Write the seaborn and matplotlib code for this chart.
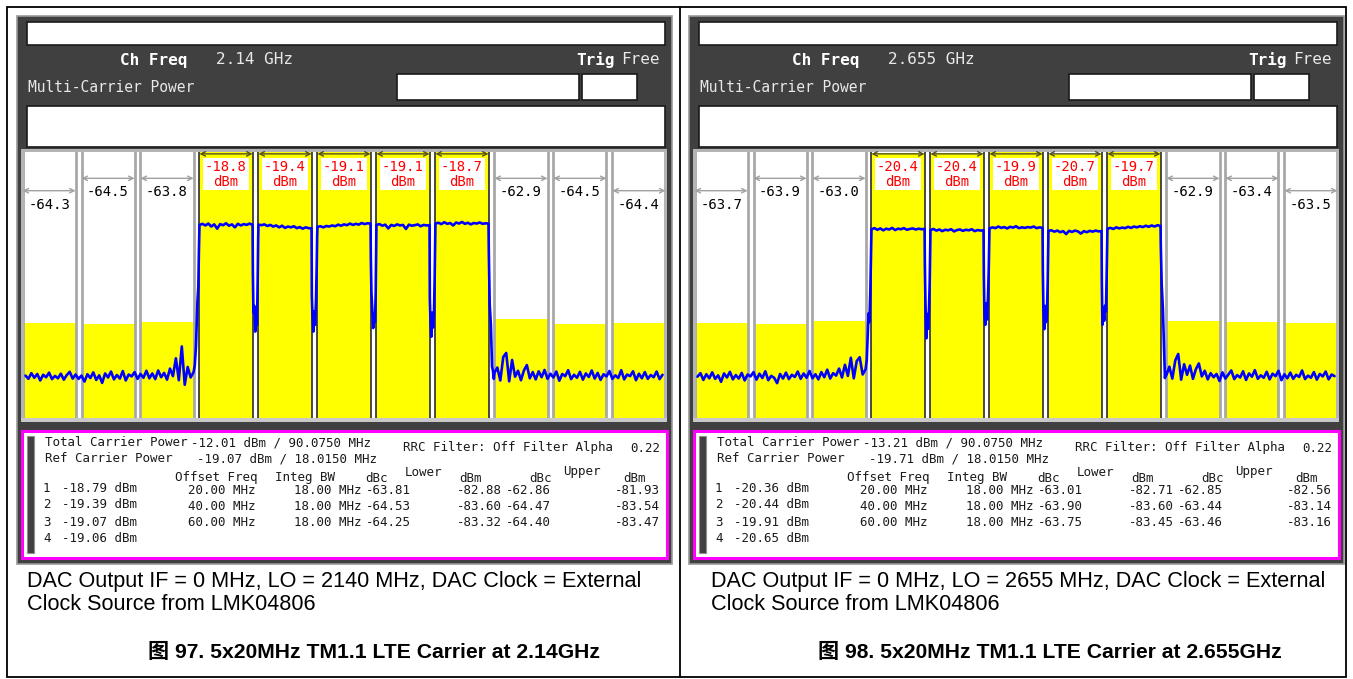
import numpy as np
import pandas as pd
import matplotlib
matplotlib.use("Agg")
import matplotlib.pyplot as plt
from matplotlib.patches import Rectangle
import seaborn as sns

# ---------------------------------------------------------------- channel plan
CH_OFFSETS = [-100, -80, -60, -40, -20, 0, 20, 40, 60, 80, 100]   # MHz, column centres
CARRIER_COLS = [3, 4, 5, 6, 7]
HALF_BW = 9.0                                                      # 18 MHz integration BW
offset_freq = [20.00, 40.00, 60.00]

# sample offsets (MHz) used inside the 2 MHz guard gaps
EDGE_IN_OFS = [0.0, 0.4, 0.8, 1.0, 1.3, 1.6, 1.8]
GAP_OFS = [0.1, 0.3, 0.6, 0.9, 1.2, 1.5, 1.75, 1.9]
EDGE_OUT_OFS = [0.1, 0.4, 0.8, 1.2, 1.5, 1.8]

# ---------------------------------------------------------------- 2.14 GHz run
a_freq_text = "2.14 GHz"
a_lo = 2140
a_fig_no = 97
a_fig_freq = "2.14GHz"
a_carrier_labels = [-18.8, -19.4, -19.1, -19.1, -18.7]
a_lower_labels = [-64.3, -64.5, -63.8]          # 60, 40, 20 MHz below
a_upper_labels = [-62.9, -64.5, -64.4]          # 20, 40, 60 MHz above
a_total = -12.01
a_ref = -19.07
a_carrier_power = [-18.79, -19.39, -19.07, -19.06]
a_lower_dbc = [-63.81, -64.53, -64.25]
a_lower_dbm = [-82.88, -83.60, -83.32]
a_upper_dbc = [-62.86, -64.47, -64.40]
a_upper_dbm = [-81.93, -83.54, -83.47]

a_floor_low = [-102.8, -104.0, -101.9, -103.6, -102.2, -104.6, -102.5, -103.4, -101.7, -104.1,
               -102.9, -103.8, -102.1, -104.3, -102.6, -101.4, -103.9, -102.4, -104.0, -102.8,
               -105.0, -102.3, -103.7, -101.6, -104.4, -102.7, -105.5, -102.0, -103.5, -101.3,
               -104.2, -102.6, -103.9, -101.1, -104.6, -102.4, -103.1, -101.5, -104.0, -102.2,
               -103.6, -101.0, -103.8, -102.0, -104.1, -100.9, -103.4, -101.8, -104.3, -100.2,
               -103.0, -96.4, -104.5, -92.0, -106.2, -99.6, -103.5]
a_edge_in = [-101.5, -99.0, -92.0, -85.0, -75.5, -70.0, -57.0]
a_carriers = [
    [-47.0, -46.6, -47.2, -46.5, -47.6, -46.8, -48.4, -46.7, -47.1, -46.4,
     -47.3, -46.8, -47.9, -46.6, -47.2, -46.7, -47.0, -46.5, -47.0],
    [-46.9, -47.1, -46.8, -47.4, -47.0, -47.6, -47.2, -47.9, -47.3, -48.1,
     -47.6, -47.9, -47.5, -48.2, -47.8, -48.4, -47.9, -48.2, -48.3],
    [-47.7, -47.5, -47.9, -47.4, -47.6, -47.2, -47.5, -46.9, -47.3, -46.8,
     -47.1, -46.5, -47.0, -46.6, -46.9, -46.3, -46.7, -46.4, -46.5],
    [-47.0, -46.7, -47.3, -46.9, -48.3, -47.0, -47.4, -46.8, -47.2, -47.0,
     -48.5, -46.9, -47.3, -47.1, -46.8, -47.5, -47.0, -47.2, -47.1],
    [-46.5, -46.2, -46.7, -46.0, -46.6, -46.3, -47.2, -46.1, -46.5, -45.9,
     -46.6, -46.2, -46.8, -46.3, -46.5, -46.1, -46.6, -46.4, -46.5],
]
a_gaps = [
    [-64.8, -79.5, -77.0, -86.5, -80.0, -84.0, -66.0, -52.0],
    [-73.5, -80.0, -86.5, -79.0, -84.0, -75.0, -62.0, -51.0],
    [-59.5, -72.0, -78.5, -85.2, -80.0, -83.0, -72.0, -58.0],
    [-74.0, -82.0, -88.4, -79.5, -85.0, -80.0, -66.0, -53.8],
]
a_edge_out = [-56.9, -76.5, -84.0, -99.5, -101.0, -104.0]
a_floor_high = [-101.8, -99.8, -104.6, -95.9, -94.4, -104.9, -97.0, -103.2, -101.0, -104.5,
                -100.9, -98.9, -103.8, -101.5, -104.2, -101.2, -103.4, -100.7, -104.0, -102.1,
                -103.5, -101.3, -104.7, -102.2, -103.0, -100.8, -104.1, -102.5, -103.6, -101.4,
                -104.3, -102.0, -103.3, -100.9, -103.9, -101.8, -104.4, -102.3, -103.1, -101.1,
                -104.0, -102.7, -103.7, -100.8, -104.2, -102.4, -103.0, -101.2, -104.5, -102.1,
                -103.8, -101.5, -104.0, -102.6, -103.4, -101.3, -104.1, -102.5]

# ---------------------------------------------------------------- 2.655 GHz run
b_freq_text = "2.655 GHz"
b_lo = 2655
b_fig_no = 98
b_fig_freq = "2.655GHz"
b_carrier_labels = [-20.4, -20.4, -19.9, -20.7, -19.7]
b_lower_labels = [-63.7, -63.9, -63.0]
b_upper_labels = [-62.9, -63.4, -63.5]
b_total = -13.21
b_ref = -19.71
b_carrier_power = [-20.36, -20.44, -19.91, -20.65]
b_lower_dbc = [-63.01, -63.90, -63.75]
b_lower_dbm = [-82.71, -83.60, -83.45]
b_upper_dbc = [-62.85, -63.44, -63.46]
b_upper_dbm = [-82.56, -83.14, -83.16]

b_floor_low = [-103.2, -101.9, -104.4, -102.3, -103.8, -101.6, -104.0, -102.7, -105.1, -102.0,
               -103.5, -101.4, -104.2, -102.6, -103.9, -101.8, -104.6, -102.4, -103.1, -101.5,
               -104.3, -102.1, -103.7, -101.2, -104.5, -102.9, -103.6, -105.6, -102.2, -103.9,
               -101.7, -104.1, -102.5, -103.3, -101.3, -104.0, -102.0, -103.6, -101.1, -103.8,
               -102.3, -104.2, -101.5, -103.4, -100.6, -103.9, -101.9, -102.8, -100.2, -103.5,
               -98.8, -102.9, -96.2, -103.8, -97.4, -96.0, -102.4]
b_edge_in = [-100.5, -97.0, -86.0, -79.8, -83.0, -72.0, -60.0]
b_carriers = [
    [-48.6, -48.2, -48.8, -48.3, -49.0, -48.4, -48.7, -48.1, -48.9, -48.4,
     -48.6, -48.2, -48.8, -48.5, -48.3, -48.7, -48.4, -48.6, -48.5],
    [-48.9, -48.5, -49.1, -48.7, -49.3, -48.8, -49.0, -48.6, -49.4, -48.9,
     -48.7, -49.2, -48.8, -49.0, -48.6, -49.3, -48.9, -49.1, -49.0],
    [-48.3, -47.9, -48.2, -47.6, -48.1, -47.8, -48.3, -47.7, -48.0, -47.5,
     -48.2, -47.9, -48.1, -47.8, -48.0, -47.6, -48.2, -47.9, -48.1],
    [-49.2, -49.0, -49.5, -49.1, -49.7, -49.3, -50.4, -49.2, -49.6, -49.1,
     -49.4, -50.2, -49.3, -49.7, -49.2, -49.5, -49.1, -49.4, -49.3],
    [-48.4, -48.1, -48.5, -47.9, -48.3, -48.0, -48.2, -47.7, -48.1, -47.6,
     -47.9, -47.5, -47.8, -47.3, -47.7, -47.2, -47.6, -47.1, -47.4],
]
b_gaps = [
    [-62.0, -76.0, -89.0, -80.0, -85.5, -78.0, -68.0, -55.0],
    [-66.0, -80.5, -84.0, -76.0, -82.0, -73.6, -64.0, -53.0],
    [-64.0, -78.0, -85.6, -77.0, -83.0, -80.0, -68.0, -55.0],
    [-68.0, -84.0, -78.0, -82.5, -76.9, -79.0, -65.0, -54.0],
]
b_edge_out = [-55.0, -69.0, -77.8, -92.0, -103.7, -101.5]
b_floor_high = [-102.6, -99.5, -103.9, -97.2, -94.8, -104.3, -98.6, -102.5, -99.1, -104.0,
                -100.4, -98.3, -103.1, -101.0, -104.2, -101.9, -103.4, -102.2, -104.8, -101.6,
                -103.9, -102.4, -100.9, -104.1, -102.6, -103.5, -101.2, -104.4, -102.0, -103.2,
                -100.8, -104.0, -102.7, -103.6, -101.4, -104.2, -102.1, -103.0, -101.0, -104.5,
                -102.3, -103.8, -101.7, -104.0, -102.5, -103.3, -100.9, -104.1, -102.8, -103.6,
                -101.5, -104.3, -102.2, -103.1, -101.3, -104.2, -102.4, -103.0]

# ---------------------------------------------------------------- styling
W, H = 1353, 679
REF_LEVEL, BOTTOM_LEVEL = -20.0, -118.5
SCREEN = "#404040"
YELLOW = "#ffff00"
MONO = ["DejaVu Sans Mono"]
CAPTION = ["Liberation Sans", "Noto Sans CJK SC"]

sns.set_theme(style="white")
plt.rcParams["font.family"] = MONO

fig = plt.figure(figsize=(W / 100, H / 100), dpi=100)
bg = fig.add_axes([0, 0, 1, 1], zorder=0)
bg.set_xlim(0, W)
bg.set_ylim(H, 0)
bg.axis("off")


def box(x0, y0, x1, y1, fc, ec="none", lw=0.0, z=1):
    bg.add_patch(Rectangle((x0, y0), x1 - x0, y1 - y0, facecolor=fc,
                           edgecolor=ec, linewidth=lw, zorder=z))


def build_trace(floor_low, edge_in, carriers, gaps, edge_out, floor_high):
    f = list(np.arange(-108, -51, 1.0))
    v = list(floor_low)
    f += [-51 + o for o in EDGE_IN_OFS]
    v += edge_in
    for k, vals in enumerate(carriers):
        c = CH_OFFSETS[CARRIER_COLS[k]]
        f += list(np.arange(c - HALF_BW, c + HALF_BW + 1, 1.0))
        v += vals
        if k < len(gaps):
            f += [c + HALF_BW + o for o in GAP_OFS]
            v += gaps[k]
    f += [49 + o for o in EDGE_OUT_OFS]
    v += edge_out
    f += list(np.arange(51, 109, 1.0))
    v += floor_high
    return pd.DataFrame({"freq": f, "level": v})


def draw_panel(dx, freq_text, carrier_labels, lower_labels, upper_labels, ref,
               total, carrier_power, lower_dbc, lower_dbm, upper_dbc, upper_dbm,
               trace, lo, fig_no, fig_freq, cap_x, fig_x):
    # instrument screen
    box(17 + dx, 16, 672 + dx, 564, SCREEN, "#9a9a9a", 1.2)
    box(27 + dx, 22, 665 + dx, 45, "white", "#1a1a1a", 1.2, 2)
    bg.text(187 + dx, 60, "Ch Freq", color="white", fontsize=11.5, weight="bold",
            ha="right", va="center", zorder=3)
    bg.text(216 + dx, 60, freq_text, color="#e8e8e8", fontsize=11.5,
            ha="left", va="center", zorder=3)
    bg.text(615 + dx, 60, "Trig", color="white", fontsize=11.5, weight="bold",
            ha="right", va="center", zorder=3)
    bg.text(621 + dx, 60, "Free", color="#e8e8e8", fontsize=11.5,
            ha="left", va="center", zorder=3)
    bg.text(28 + dx, 88, "Multi-Carrier Power", color="#e8e8e8", fontsize=10.5,
            ha="left", va="center", zorder=3)
    box(397 + dx, 74, 579 + dx, 100, "white", "#1a1a1a", 1.2, 2)
    box(582 + dx, 74, 637 + dx, 100, "white", "#1a1a1a", 1.2, 2)
    box(27 + dx, 106, 665 + dx, 147, "white", "#1a1a1a", 1.2, 2)
    # graph bezel
    box(21 + dx, 149, 667 + dx, 422, "#b4b4b4", z=2)

    # spectrum axes
    ax = fig.add_axes([(24 + dx) / W, 1 - 418 / H, 640 / W, (418 - 152) / H], zorder=2)
    ax.set_facecolor("white")
    ax.set_xlim(-108.5, 108.5)
    ax.set_ylim(BOTTOM_LEVEL, REF_LEVEL)
    ax.set_xticks([])
    ax.set_yticks([])
    for s in ax.spines.values():
        s.set_visible(False)

    adj_labels = list(lower_labels) + list(upper_labels)
    adj_cols = [0, 1, 2, 8, 9, 10]
    adj_centres = [CH_OFFSETS[i] for i in adj_cols]
    adj_levels = [ref + v for v in adj_labels]
    car_centres = [CH_OFFSETS[i] for i in CARRIER_COLS]
    ax.bar(adj_centres, [lv - BOTTOM_LEVEL for lv in adj_levels], width=2 * HALF_BW,
           bottom=BOTTOM_LEVEL, color=YELLOW, linewidth=0, zorder=1)
    ax.bar(car_centres, [lv - BOTTOM_LEVEL for lv in carrier_labels], width=2 * HALF_BW,
           bottom=BOTTOM_LEVEL, color=YELLOW, linewidth=0, zorder=1)

    xt = ax.get_xaxis_transform()
    for i, c in enumerate(CH_OFFSETS):
        is_car = i in CARRIER_COLS
        for edge in (c - HALF_BW, c + HALF_BW):
            ax.axvline(edge, color="#3a3a3a" if is_car else "#a8a8a8",
                       lw=1.3 if is_car else 2.0, zorder=2)

    sns.lineplot(data=trace, x="freq", y="level", ax=ax, color="#0000ff",
                 linewidth=1.9, sort=False, estimator=None, legend=False, zorder=4)
    ax.set_xlabel("")
    ax.set_ylabel("")

    for c, v, i in zip(adj_centres, adj_labels, adj_cols):
        outer = i in (0, 10)
        ya = 0.8545 if outer else 0.901
        yl = 0.801 if outer else 0.851
        ax.annotate("", xy=(c + HALF_BW, ya), xytext=(c - HALF_BW, ya), xycoords=xt,
                    arrowprops=dict(arrowstyle="<->", color="#a0a0a0", lw=1.0,
                                    shrinkA=0, shrinkB=0, mutation_scale=8), zorder=5)
        ax.text(c, yl, f"{v:.1f}", transform=xt, ha="center", va="center",
                fontsize=10, color="black", zorder=6)
    for c, v in zip(car_centres, carrier_labels):
        ax.annotate("", xy=(c + HALF_BW, 0.993), xytext=(c - HALF_BW, 0.993), xycoords=xt,
                    arrowprops=dict(arrowstyle="<->", color="#505020", lw=1.0,
                                    shrinkA=0, shrinkB=0, mutation_scale=8), zorder=5)
        ax.text(c, 0.917, f"{v:.1f}\ndBm", transform=xt, ha="center", va="center",
                fontsize=10, color="#ff0000", linespacing=1.1, zorder=6,
                bbox=dict(boxstyle="square,pad=0.12", fc="white", ec="none"))

    # measurement summary
    box(21 + dx, 418, 667 + dx, 422, "#c8c8c8", z=2)
    box(22 + dx, 431, 667 + dx, 558, "white", "#ff00ff", 2.2, 2)
    box(27 + dx, 436, 34 + dx, 553, SCREEN, "#909090", 0.8, 3)
    fs = 9.0
    kw = dict(fontsize=fs, color="#1a1a1a", va="center", zorder=4)
    bg.text(45 + dx, 443, "Total Carrier Power", ha="left", **kw)
    bg.text(191 + dx, 443, f"{total:.2f} dBm / 90.0750 MHz", ha="left", **kw)
    bg.text(45 + dx, 459, "Ref Carrier Power", ha="left", **kw)
    bg.text(197 + dx, 459, f"{ref:.2f} dBm / 18.0150 MHz", ha="left", **kw)
    bg.text(403 + dx, 448, "RRC Filter: Off Filter Alpha", ha="left", **kw)
    bg.text(660 + dx, 448, "0.22", ha="right", **kw)
    bg.text(175 + dx, 478, "Offset Freq", ha="left", **kw)
    bg.text(275 + dx, 478, "Integ BW", ha="left", **kw)
    bg.text(377 + dx, 478, "dBc", ha="center", **kw)
    bg.text(424 + dx, 472, "Lower", ha="center", **kw)
    bg.text(471 + dx, 479, "dBm", ha="center", **kw)
    bg.text(541 + dx, 479, "dBc", ha="center", **kw)
    bg.text(582 + dx, 472, "Upper", ha="center", **kw)
    bg.text(635 + dx, 479, "dBm", ha="center", **kw)
    for n, (p, yy) in enumerate(zip(carrier_power, [489, 505, 522, 538]), start=1):
        bg.text(43 + dx, yy, f"{n}", ha="left", **kw)
        bg.text(62 + dx, yy, f"{p:.2f} dBm", ha="left", **kw)
    for k, yy in enumerate([490, 506, 522]):
        bg.text(255 + dx, yy, f"{offset_freq[k]:.2f} MHz", ha="right", **kw)
        bg.text(361 + dx, yy, "18.00 MHz", ha="right", **kw)
        bg.text(366 + dx, yy, f"{lower_dbc[k]:.2f}", ha="left", **kw)
        bg.text(502 + dx, yy, f"{lower_dbm[k]:.2f}", ha="right", **kw)
        bg.text(551 + dx, yy, f"{upper_dbc[k]:.2f}", ha="right", **kw)
        bg.text(660 + dx, yy, f"{upper_dbm[k]:.2f}", ha="right", **kw)

    # caption
    ckw = dict(fontsize=15.6, family=CAPTION, color="black", ha="left", va="center", zorder=4)
    bg.text(cap_x, 581,
            f"DAC Output IF = 0 MHz, LO = {lo} MHz, DAC Clock = External", **ckw)
    bg.text(cap_x, 604, "Clock Source from LMK04806", **ckw)
    bg.text(fig_x, 652, f"图 {fig_no}. 5x20MHz TM1.1 LTE Carrier at {fig_freq}",
            fontsize=15.2, family=CAPTION, weight="bold", color="black",
            ha="left", va="center", zorder=4)


# page frame
box(7, 7, 1346, 677, "white", "black", 1.3, 0)
bg.plot([680, 680], [7, 677], color="black", lw=1.3, zorder=1)

draw_panel(0, a_freq_text, a_carrier_labels, a_lower_labels, a_upper_labels, a_ref,
           a_total, a_carrier_power, a_lower_dbc, a_lower_dbm, a_upper_dbc, a_upper_dbm,
           build_trace(a_floor_low, a_edge_in, a_carriers, a_gaps, a_edge_out, a_floor_high),
           a_lo, a_fig_no, a_fig_freq, 27, 148)
draw_panel(672, b_freq_text, b_carrier_labels, b_lower_labels, b_upper_labels, b_ref,
           b_total, b_carrier_power, b_lower_dbc, b_lower_dbm, b_upper_dbc, b_upper_dbm,
           build_trace(b_floor_low, b_edge_in, b_carriers, b_gaps, b_edge_out, b_floor_high),
           b_lo, b_fig_no, b_fig_freq, 711, 818)

fig.savefig("out.png", dpi=100)
